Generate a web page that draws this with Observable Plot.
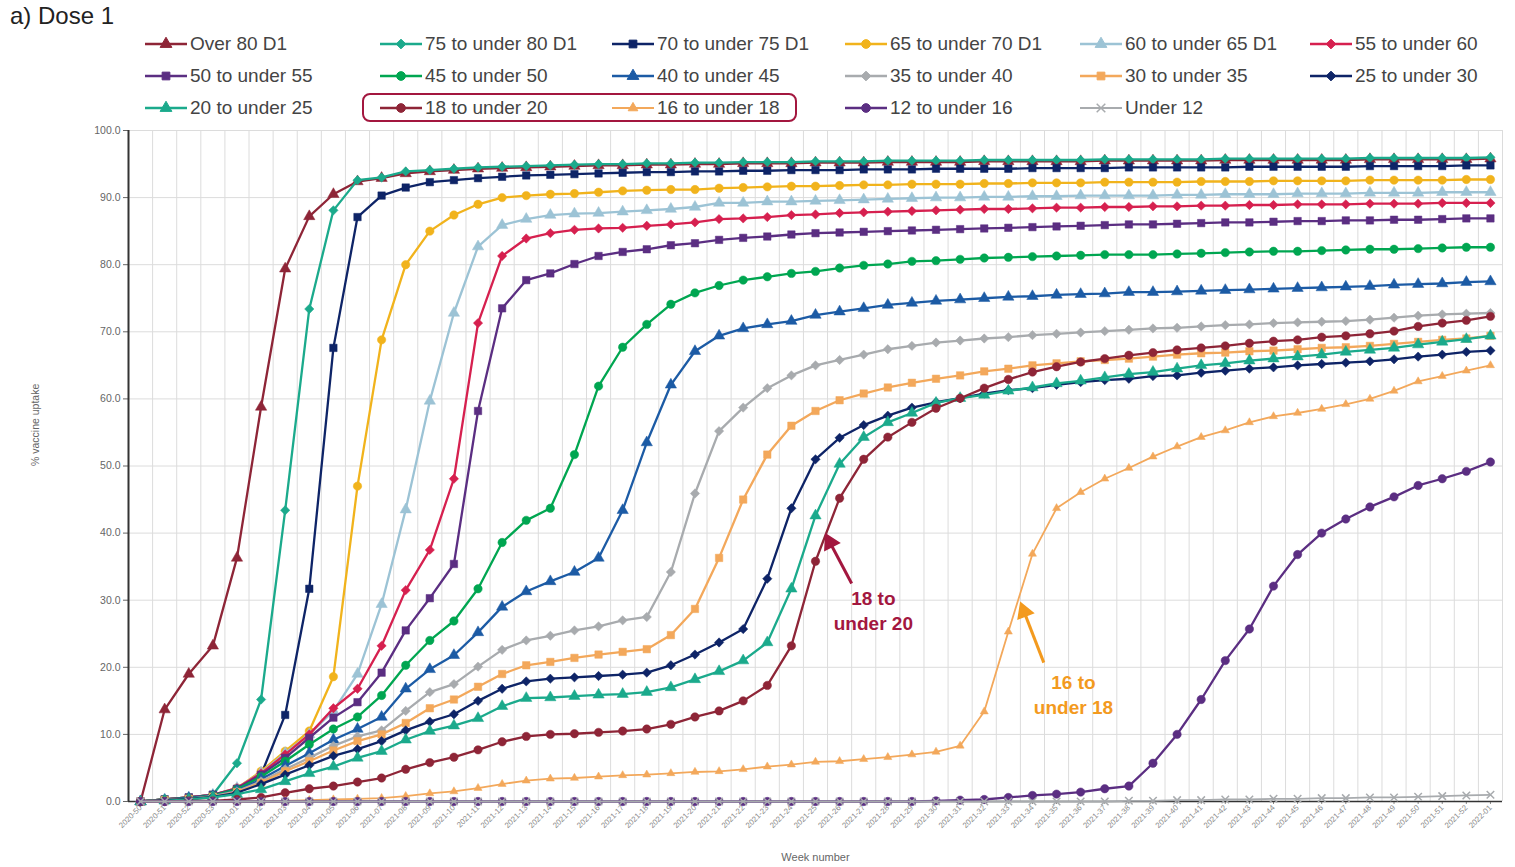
<!DOCTYPE html>
<html><head><meta charset="utf-8">
<script src="https://cdn.jsdelivr.net/npm/d3@7"></script>
<script src="https://cdn.jsdelivr.net/npm/@observablehq/plot@0.6"></script>
<style>
body{margin:0;background:#fff;font-family:"Liberation Sans",Arial,sans-serif;}
#wrap{position:relative;width:1515px;height:867px;overflow:hidden;background:#fff;}
#title{position:absolute;left:10px;top:4px;font-size:24px;line-height:24px;color:#222;}
.leg{position:absolute;height:24px;display:flex;align-items:center;font-size:19px;color:#444;white-space:nowrap;}
.leg svg{margin-right:3px;}
#box{position:absolute;left:362px;top:93px;width:431px;height:25px;border:2.5px solid #A3173F;border-radius:8px;}
#chart{position:absolute;left:0;top:120px;}
</style></head>
<body>
<div id="wrap">
  <div id="title">a) Dose 1</div>
  <div id="legend"></div>
  <div id="box"></div>
  <div id="chart"></div>
</div>
<script>
const weeks = ["2020-50","2020-51","2020-52","2020-53","2021-01","2021-02","2021-03","2021-04","2021-05","2021-06","2021-07","2021-08","2021-09","2021-10","2021-11","2021-12","2021-13","2021-14","2021-15","2021-16","2021-17","2021-18","2021-19","2021-20","2021-21","2021-22","2021-23","2021-24","2021-25","2021-26","2021-27","2021-28","2021-29","2021-30","2021-31","2021-32","2021-33","2021-34","2021-35","2021-36","2021-37","2021-38","2021-39","2021-40","2021-41","2021-42","2021-43","2021-44","2021-45","2021-46","2021-47","2021-48","2021-49","2021-50","2021-51","2021-52","2022-01"];

const over80 = [0,13.7,19.0,23.2,36.3,58.8,79.4,87.2,90.5,92.4, 92.9,93.6,93.9,94.1,94.3,94.4,94.5,94.6,94.7,94.8, 94.8,94.9,94.9,95.0,95.0,95.1,95.1,95.1,95.2,95.2, 95.2,95.3,95.3,95.3,95.3,95.4,95.4,95.4,95.4,95.4, 95.5,95.5,95.5,95.5,95.5,95.6,95.6,95.6,95.6,95.6, 95.6,95.7,95.7,95.7,95.7,95.7,95.8];
const age75to80 = [0,0.3,0.6,1.0,5.7,15.2,43.4,73.4,88.1,92.6, 93.0,93.9,94.1,94.3,94.5,94.6,94.7,94.8,94.9,95.0, 95.0,95.1,95.1,95.2,95.2,95.3,95.3,95.3,95.4,95.4, 95.4,95.5,95.5,95.5,95.5,95.6,95.6,95.6,95.6,95.6, 95.7,95.7,95.7,95.7,95.7,95.8,95.8,95.8,95.8,95.8, 95.8,95.9,95.9,95.9,95.9,95.9,96.0];
const age70to75 = [0,0.3,0.6,1.0,1.8,4.0,12.9,31.7,67.6,87.1, 90.3,91.5,92.3,92.6,92.9,93.1,93.3,93.4,93.5,93.6, 93.7,93.8,93.8,93.9,93.9,94.0,94.0,94.1,94.1,94.1, 94.2,94.2,94.2,94.3,94.3,94.3,94.3,94.4,94.4,94.4, 94.4,94.5,94.5,94.5,94.5,94.5,94.6,94.6,94.6,94.6, 94.6,94.7,94.7,94.7,94.7,94.8,94.8];
const age65to70 = [0,0.3,0.6,1.0,2.0,4.5,7.5,10.5,18.6,47.0, 68.8,80.0,85.0,87.4,89.0,90.0,90.3,90.5,90.6,90.8, 91.0,91.1,91.2,91.2,91.4,91.5,91.6,91.7,91.7,91.8, 91.9,91.9,92.0,92.0,92.0,92.1,92.1,92.2,92.2,92.2, 92.3,92.3,92.3,92.3,92.4,92.4,92.4,92.5,92.5,92.5, 92.5,92.6,92.6,92.6,92.6,92.7,92.7];
const age60to65 = [0,0.3,0.6,1.0,2.0,4.3,7.2,10.0,13.5,19.0, 29.4,43.5,59.7,72.8,82.7,85.9,86.8,87.4,87.6,87.7, 87.9,88.1,88.3,88.6,89.2,89.2,89.4,89.4,89.5,89.6, 89.7,89.8,89.9,90.0,90.0,90.1,90.1,90.2,90.2,90.3, 90.3,90.3,90.3,90.4,90.4,90.5,90.5,90.5,90.6,90.6, 90.6,90.7,90.7,90.7,90.8,90.8,90.8];
const age55to60 = [0,0.3,0.6,1.0,2.0,4.2,7.0,10.0,13.9,16.8, 23.2,31.5,37.5,48.1,71.3,81.3,83.9,84.7,85.2,85.4, 85.5,85.8,86.0,86.3,86.8,86.9,87.1,87.4,87.5,87.7, 87.8,87.9,88.0,88.1,88.2,88.3,88.3,88.4,88.5,88.5, 88.6,88.6,88.7,88.7,88.8,88.8,88.9,88.9,89.0,89.0, 89.0,89.1,89.1,89.1,89.2,89.2,89.2];
const age50to55 = [0,0.3,0.6,1.0,1.9,4.0,6.5,9.5,12.5,14.8, 19.2,25.5,30.3,35.4,58.2,73.5,77.7,78.7,80.1,81.3, 81.9,82.3,82.9,83.2,83.7,84.0,84.2,84.5,84.7,84.8, 84.9,85.0,85.1,85.2,85.3,85.4,85.5,85.6,85.7,85.8, 85.9,86.0,86.0,86.1,86.2,86.3,86.3,86.4,86.5,86.5, 86.6,86.6,86.7,86.7,86.8,86.9,86.9];
const age45to50 = [0,0.3,0.5,0.9,1.8,3.7,6.0,8.5,10.8,12.6, 15.8,20.3,24.0,26.9,31.7,38.6,41.9,43.7,51.7,61.9, 67.7,71.1,74.1,75.8,76.9,77.7,78.2,78.7,79.0,79.5, 79.9,80.1,80.5,80.6,80.8,81.0,81.1,81.2,81.3,81.4, 81.5,81.5,81.5,81.6,81.7,81.8,81.9,82.0,82.0,82.1, 82.2,82.3,82.3,82.4,82.5,82.6,82.6];
const age40to45 = [0,0.2,0.5,0.8,1.6,3.3,5.3,7.2,9.2,10.8, 12.6,16.8,19.7,21.8,25.2,29.0,31.3,32.8,34.2,36.3, 43.4,53.5,62.1,67.1,69.4,70.5,71.1,71.6,72.5,73.0, 73.5,74.0,74.3,74.6,74.8,75.0,75.2,75.3,75.5,75.6, 75.7,75.9,75.9,76.0,76.1,76.2,76.3,76.4,76.5,76.6, 76.7,76.8,77.0,77.1,77.2,77.4,77.5];
const age35to40 = [0,0.2,0.4,0.8,1.5,3.0,4.8,6.5,8.3,9.7, 10.6,13.5,16.3,17.5,20.1,22.6,24.0,24.7,25.5,26.1, 27.0,27.5,34.2,45.9,55.2,58.7,61.6,63.5,65.0,65.8, 66.6,67.4,67.9,68.4,68.7,69.0,69.2,69.5,69.7,69.9, 70.1,70.3,70.5,70.6,70.8,71.0,71.1,71.3,71.4,71.5, 71.6,71.8,72.1,72.4,72.6,72.7,72.8];
const age30to35 = [0,0.2,0.4,0.7,1.4,2.8,4.5,6.0,7.6,9.0, 10.0,11.7,13.9,15.2,17.1,19.0,20.3,20.8,21.4,21.9, 22.3,22.7,24.8,28.7,36.3,45.0,51.7,56.0,58.2,59.8, 60.8,61.7,62.4,63.0,63.5,64.1,64.5,65.0,65.3,65.6, 65.8,66.0,66.3,66.6,66.8,66.9,67.1,67.2,67.4,67.6, 67.7,67.9,68.2,68.5,68.8,69.0,69.4];
const age25to30 = [0,0.2,0.4,0.7,1.3,2.6,4.0,5.4,6.8,7.8, 9.0,10.6,11.9,13.0,15.0,16.8,17.9,18.3,18.5,18.7, 18.9,19.2,20.3,21.9,23.7,25.7,33.2,43.7,51.0,54.2, 56.1,57.5,58.7,59.5,60.1,60.8,61.3,61.6,62.1,62.5, 62.8,63.0,63.4,63.5,63.9,64.2,64.5,64.7,65.0,65.2, 65.4,65.6,65.9,66.3,66.6,67.0,67.2];
const age20to25 = [0,0.1,0.3,0.6,1.1,1.8,3.0,4.2,5.2,6.5, 7.5,9.2,10.5,11.3,12.4,14.2,15.4,15.5,15.7,15.9, 16.0,16.3,17.0,18.2,19.4,21.0,23.7,31.7,42.6,50.3, 54.3,56.5,57.9,59.4,60.1,60.6,61.2,61.7,62.3,62.7, 63.2,63.7,64.0,64.5,65.0,65.3,65.7,66.0,66.3,66.6, 67.0,67.3,67.6,68.1,68.5,68.9,69.4];
const age18to20 = [0,0,0.1,0.1,0.3,0.6,1.3,1.9,2.3,2.9, 3.5,4.8,5.8,6.6,7.7,8.9,9.7,10.0,10.1,10.3, 10.5,10.8,11.5,12.6,13.5,15.0,17.3,23.2,35.8,45.2, 51.0,54.3,56.5,58.6,60.1,61.6,62.9,64.0,64.8,65.5, 66.0,66.5,66.9,67.3,67.6,67.9,68.3,68.6,68.8,69.2, 69.4,69.7,70.1,70.8,71.3,71.7,72.3];
const age16to18 = [0,0,0,0,0,0,0.1,0.2,0.3,0.4, 0.5,0.8,1.2,1.5,2.0,2.6,3.1,3.4,3.5,3.7, 3.9,4.0,4.2,4.4,4.5,4.8,5.2,5.5,5.9,6.0, 6.3,6.6,7.0,7.4,8.3,13.4,25.3,36.9,43.7,46.1, 48.1,49.7,51.4,52.9,54.3,55.3,56.5,57.4,57.9,58.5, 59.2,60.0,61.2,62.6,63.4,64.2,65.0];
const age12to16 = [0,0,0,0,0,0,0,0,0,0, 0,0,0,0,0,0,0,0,0,0, 0,0,0,0,0,0,0,0,0,0, 0,0,0,0.1,0.2,0.3,0.6,0.9,1.1,1.4, 1.9,2.3,5.7,10.0,15.2,21.0,25.7,32.1,36.8,40.0, 42.1,43.9,45.4,47.1,48.1,49.2,50.6];
const under12 = [0,0,0,0,0,0,0,0,0,0, 0,0,0,0,0,0,0,0,0,0, 0,0,0,0,0,0,0,0,0,0, 0,0,0,0,0,0,0,0,0,0, 0,0.1,0.1,0.2,0.2,0.3,0.3,0.4,0.4,0.5, 0.5,0.6,0.6,0.7,0.8,0.9,1.0];

const seriesNames = ["Over 80 D1","75 to under 80 D1","70 to under 75 D1","65 to under 70 D1","60 to under 65 D1","55 to under 60","50 to under 55","45 to under 50","40 to under 45","35 to under 40","30 to under 35","25 to under 30","20 to under 25","18 to under 20","16 to under 18","12 to under 16","Under 12"];
const seriesValues = [over80,age75to80,age70to75,age65to70,age60to65,age55to60,age50to55,age45to50,age40to45,age35to40,age30to35,age25to30,age20to25,age18to20,age16to18,age12to16,under12];
const seriesColors = ["#8E2537","#1BAA8C","#0E2467","#F1B31C","#9CC3D5","#D6204F","#5B2E82","#00A651","#1C5BA5","#A8ABAE","#F3A85B","#0E2467","#1BAA8C","#8E2537","#F3A85B","#5B2E82","#A8ABAE"];
const seriesSymbols = ["triangle","diamond2","square","circle","triangle","diamond2","square","circle","triangle","diamond2","square","diamond2","triangle","circle","triangle","circle","times"];

const yTicks = [0,10,20,30,40,50,60,70,80,90,100];
const xTitle = "Week number";
const yTitle = "% vaccine uptake";

const annotations = [
  {text:"18 to\nunder 20", x:30.4, y:28.6, color:"#A3173F", x1:29.5, y1:32.5, x2:28.6, y2:38.6, rot:-27},
  {text:"16 to\nunder 18", x:38.7, y:16.1, color:"#F39A1E", x1:37.47, y1:20.7, x2:36.65, y2:28.3, rot:-21}
];

const rows = seriesValues.flatMap((vals, s) => vals.map((v, i) => ({s, i, v})));

const symMap = {triangle: d3.symbolTriangle, diamond2: d3.symbolDiamond2, square: d3.symbolSquare, circle: d3.symbolCircle, times: d3.symbolTimes};

// Legend
const cols = [145, 380, 612, 845, 1080, 1310];
const rowY = [44, 76, 108];
const legend = d3.select("#legend");
seriesNames.forEach((name, k) => {
  const item = legend.append("div").attr("class", "leg")
    .style("left", cols[k % 6] + "px").style("top", (rowY[Math.floor(k / 6)] - 12) + "px");
  const sv = item.append("svg").attr("width", 42).attr("height", 20);
  const thin = name === "16 to under 18" || name === "Under 12";
  sv.append("line").attr("x1", 0).attr("x2", 42).attr("y1", 10).attr("y2", 10)
    .attr("stroke", seriesColors[k]).attr("stroke-width", thin ? 2 : 2.5);
  const sym = seriesSymbols[k];
  sv.append("path").attr("transform", "translate(21,10)")
    .attr("d", d3.symbol().type(symMap[sym]).size(sym === "times" ? 50 : (thin ? 40 : 60))())
    .attr("fill", sym === "times" ? "none" : seriesColors[k])
    .attr("stroke", seriesColors[k]).attr("stroke-width", sym === "times" ? 1.5 : 1);
  item.append("span").text(name);
});

const marks = [
  Plot.gridY(yTicks, {stroke: "#dcdcdc", strokeOpacity: 1}),
  Plot.gridX(d3.range(0.5, 57, 1), {stroke: "#dcdcdc", strokeOpacity: 1}),
  Plot.axisY(yTicks, {tickFormat: d => d.toFixed(1), fontSize: 10.5, color: "#666", tickSize: 5, tickPadding: 3, label: null}),
  Plot.axisX(d3.range(0, 57), {tickFormat: i => weeks[i], tickRotate: -45, fontSize: 7.8, color: "#8a8a8a", tickSize: 3, tickPadding: 2, label: null}),
  Plot.text([yTitle], {frameAnchor: "left", dx: -93, rotate: -90, fontSize: 10.5, fill: "#666"}),
  Plot.text([xTitle], {frameAnchor: "bottom", dy: 59, fontSize: 11, fill: "#666"}),
  Plot.ruleY([0], {stroke: "#333", strokeWidth: 1.5}),
  Plot.ruleX([-0.5], {stroke: "#333", strokeWidth: 2})
];

seriesValues.forEach((vals, s) => {
  const data = rows.filter(d => d.s === s);
  const thin = s === 14 || s === 16;
  marks.push(Plot.line(data, {x: "i", y: "v", stroke: seriesColors[s], strokeWidth: thin ? 1.8 : 2.3}));
  if (seriesSymbols[s] === "times") {
    marks.push(Plot.dot(data, {x: "i", y: "v", symbol: "times", stroke: seriesColors[s], r: 3.5, strokeWidth: 1.5}));
  } else {
    marks.push(Plot.dot(data, {x: "i", y: "v", symbol: seriesSymbols[s], fill: seriesColors[s], stroke: seriesColors[s], strokeWidth: 0.5, r: thin ? 3 : 4.2}));
  }
});

marks.push(
  Plot.link(annotations, {x1: "x1", y1: "y1", x2: "x2", y2: "y2", stroke: "color", strokeWidth: 3}),
  Plot.dot(annotations, {x: "x2", y: "y2", symbol: "triangle", fill: "color", stroke: "color", r: 6, rotate: "rot"}),
  Plot.text(annotations, {x: "x", y: "y", text: "text", fill: "color", fontSize: 19, fontWeight: "bold", lineHeight: 1.3, textAnchor: "middle"})
);

const chart = Plot.plot({
  width: 1515, height: 747,
  marginTop: 10, marginBottom: 66, marginLeft: 128, marginRight: 13,
  x: {domain: [-0.5, 56.5], axis: null},
  y: {domain: [0, 100], axis: null},
  style: {fontFamily: "'Liberation Sans', Arial, sans-serif", background: "transparent"},
  marks
});
document.getElementById("chart").appendChild(chart);
</script>
</body></html>
